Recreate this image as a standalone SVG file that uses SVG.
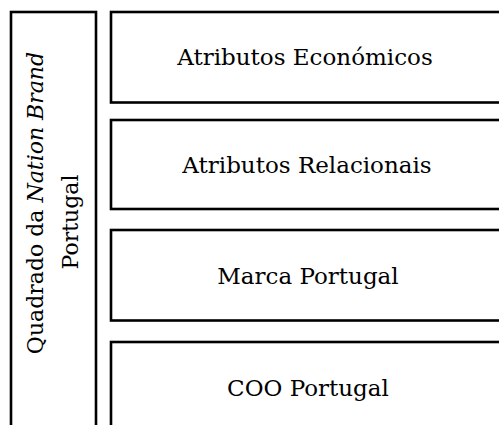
<svg xmlns="http://www.w3.org/2000/svg" width="499" height="425" viewBox="0 0 499 425">
<style>
.box{fill:#fff;stroke:#000;stroke-width:2.6}
.t{font-family:"DejaVu Serif","Liberation Serif",serif;font-size:22px;fill:#000;text-anchor:middle}
.b{font-size:23px}
</style>
<rect width="499" height="425" fill="#fff"/>
<g id="connectors"/>
<g id="nation-brand">
<rect class="box" x="11" y="12" width="85" height="430"/>
<text class="t" transform="translate(43,203) rotate(-90)">Quadrado da <tspan font-style="italic">Nation Brand</tspan></text>
<text class="t" transform="translate(78,222) rotate(-90)">Portugal</text>
</g>
<g id="atributos-economicos">
<rect class="box" x="111" y="12" width="400" height="90.5"/>
<text class="t b" x="305" y="65">Atributos Económicos</text>
</g>
<g id="atributos-relacionais">
<rect class="box" x="111" y="120" width="400" height="89"/>
<text class="t b" x="307" y="173">Atributos Relacionais</text>
</g>
<g id="marca-portugal">
<rect class="box" x="111" y="230" width="400" height="90.5"/>
<text class="t b" x="308" y="284">Marca Portugal</text>
</g>
<g id="coo-portugal">
<rect class="box" x="111" y="342" width="400" height="100"/>
<text class="t b" x="308" y="396">COO Portugal</text>
</g>
</svg>
